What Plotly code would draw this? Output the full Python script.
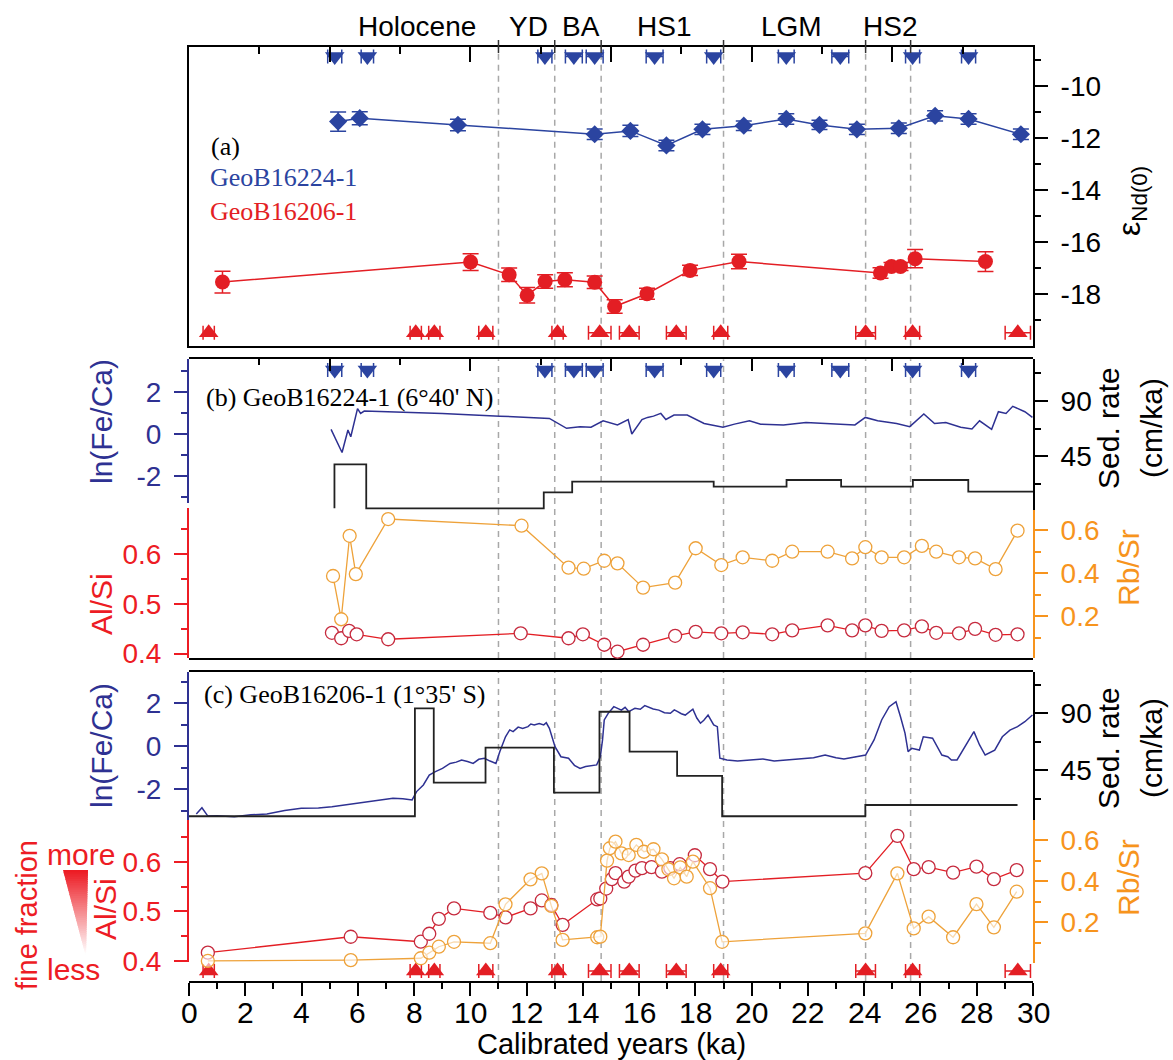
import plotly.graph_objects as go

# ---------------- data ----------------
# Panel (a): eps Nd(0)
nd_blue_age = [5.30, 6.07, 9.56, 14.42, 15.69, 16.97, 18.25, 19.72, 21.23, 22.41, 23.74, 25.23, 26.52, 27.71, 29.57]
nd_blue_val = [-11.37, -11.24, -11.50, -11.86, -11.73, -12.29, -11.67, -11.53, -11.27, -11.50, -11.67, -11.63, -11.15, -11.27, -11.86]
nd_blue_err = [0.37, 0.25, 0.22, 0.2, 0.22, 0.2, 0.2, 0.18, 0.2, 0.18, 0.2, 0.2, 0.2, 0.2, 0.2]
nd_red_age = [1.19, 10.01, 11.38, 12.02, 12.66, 13.36, 14.42, 15.13, 16.28, 17.81, 19.55, 24.58, 24.97, 25.29, 25.81, 28.31]
nd_red_val = [-17.55, -16.78, -17.27, -18.06, -17.53, -17.46, -17.56, -18.49, -18.0, -17.1, -16.76, -17.2, -16.95, -16.95, -16.65, -16.76]
nd_red_err = [0.42, 0.32, 0.26, 0.3, 0.26, 0.27, 0.24, 0.26, 0.21, 0.2, 0.28, 0.2, 0.15, 0.15, 0.35, 0.38]

# age control points
blue_tie_age = [5.18, 6.34, 12.65, 13.68, 14.42, 16.55, 18.65, 21.23, 23.15, 25.72, 27.71]
blue_tie_err = [0.25, 0.22, 0.25, 0.3, 0.3, 0.3, 0.25, 0.28, 0.3, 0.25, 0.25]
red_tie_age = [0.70, 8.06, 8.72, 10.55, 13.10, 14.60, 15.65, 17.32, 18.90, 24.05, 25.72, 29.46]
red_tie_err = [0.2, 0.2, 0.2, 0.25, 0.2, 0.4, 0.35, 0.35, 0.25, 0.35, 0.25, 0.45]

# Panel (b): GeoB16224-1
b_lnfeca_age = [5.05, 5.44, 5.65, 5.75, 5.99, 6.10, 6.23, 7.0, 9.0, 11.05, 12.81, 13.42, 13.9, 14.29, 14.44, 14.72,
                15.23, 15.61, 15.74, 16.1, 16.3, 16.51, 16.77, 16.95, 17.24, 17.71, 18.31, 18.58, 18.98, 19.39, 19.92,
                20.32, 21.13, 21.93, 22.6, 23.27, 23.67, 24.04, 24.48, 25.15, 25.62, 26.12, 26.5, 26.9, 27.43, 27.83,
                28.1, 28.53, 28.77, 29.04, 29.28, 29.71, 29.98]
b_lnfeca_val = [0.22, -0.88, 0.19, -0.13, 1.21, 0.98, 1.09, 1.06, 0.98, 0.85, 0.74, 0.27, 0.35, 0.32, 0.43, 0.63,
                0.43, 0.69, 0.0, 0.69, 0.79, 0.85, 0.98, 0.69, 0.9, 0.9, 0.5, 0.43, 0.32, 0.47, 0.63,
                0.47, 0.43, 0.55, 0.5, 0.43, 0.43, 0.79, 0.63, 0.5, 0.35, 0.95, 0.5, 0.55, 0.32, 0.24,
                0.63, 0.22, 1.06, 0.98, 1.32, 1.06, 0.79]
b_sed_age = [5.17, 5.17, 6.3, 12.61, 13.62, 18.65, 21.24, 23.18, 25.73, 27.7, 30.0]
b_sed_val = [2.7, 38.5, 2.7, 15.7, 24.4, 20.3, 25.7, 20.3, 25.7, 16.2, 16.2]
b_alsi_age = [5.08, 5.41, 5.69, 5.96, 7.08, 11.79, 13.49, 14.0, 14.76, 15.23, 16.14, 17.28, 18.01, 18.92, 19.68,
              20.73, 21.44, 22.7, 23.57, 24.04, 24.62, 25.42, 26.05, 26.56, 27.37, 27.94, 28.67, 29.45]
b_alsi_val = [0.442, 0.431, 0.446, 0.439, 0.429, 0.441, 0.431, 0.439, 0.418, 0.404, 0.418, 0.436, 0.444, 0.441, 0.443,
              0.439, 0.447, 0.457, 0.447, 0.457, 0.446, 0.447, 0.455, 0.442, 0.441, 0.45, 0.438, 0.439]
b_rbsr_age = [5.12, 5.41, 5.71, 5.93, 7.08, 11.82, 13.49, 14.03, 14.76, 15.23, 16.14, 17.28, 18.01, 18.92, 19.68,
              20.73, 21.44, 22.7, 23.57, 24.04, 24.62, 25.42, 26.05, 26.56, 27.37, 27.94, 28.67, 29.45]
b_rbsr_val = [0.386, 0.185, 0.573, 0.395, 0.651, 0.62, 0.425, 0.42, 0.457, 0.445, 0.332, 0.355, 0.515, 0.437, 0.473,
              0.457, 0.499, 0.499, 0.468, 0.52, 0.473, 0.473, 0.526, 0.499, 0.473, 0.468, 0.418, 0.597]

# Panel (c): GeoB16206-1
c_lnfeca_age = [0.26, 0.46, 0.67, 1.0, 1.61, 2.2, 2.77, 3.4, 3.99, 4.6, 5.08, 5.75, 6.3, 6.8, 7.25, 7.6, 7.93, 8.09,
                8.33, 8.54, 8.74, 9.01, 9.28, 9.5, 9.69, 9.9, 10.1, 10.3, 10.5, 10.7, 10.91, 11.05, 11.25, 11.4,
                11.52, 11.7, 11.86, 12.05, 12.15, 12.27, 12.45, 12.61, 12.7, 12.81, 13.01, 13.22, 13.49, 13.7, 13.9,
                14.1, 14.3, 14.49, 14.62, 14.7, 14.76, 14.9, 15.1, 15.25, 15.37, 15.5, 15.63, 15.85, 16.04, 16.2,
                16.3, 16.5, 16.7, 16.9, 17.11, 17.25, 17.37, 17.5, 17.64, 17.8, 17.91, 18.05, 18.18, 18.3, 18.45,
                18.65, 18.78, 18.87, 19.12, 19.5, 19.92, 20.4, 20.8, 21.27, 21.8, 22.2, 22.61, 23.0, 23.28, 23.7,
                24.05, 24.35, 24.62, 24.89, 25.13, 25.29, 25.45, 25.56, 25.69, 25.96, 26.1, 26.43, 26.76, 26.97,
                27.1, 27.3, 27.57, 27.9, 28.1, 28.3, 28.64, 28.91, 29.18, 29.45, 29.71, 29.98]
c_lnfeca_val = [-3.16, -2.87, -3.26, -3.25, -3.29, -3.2, -3.16, -3.0, -2.9, -2.88, -2.82, -2.7, -2.59, -2.52, -2.43,
                -2.45, -2.51, -2.12, -1.81, -1.35, -1.2, -1.04, -0.81, -0.75, -0.65, -0.72, -0.81, -0.62, -0.57,
                -0.7, -0.81, -0.26, 0.43, 0.75, 0.67, 0.88, 0.82, 0.9, 1.02, 0.98, 1.05, 0.98, 1.08, 0.82, -0.03,
                -0.5, -0.57, -0.9, -1.04, -0.95, -0.93, -0.88, -0.5, 0.3, 1.21, 1.52, 1.83, 1.72, 1.67, 1.8, 1.6,
                1.75, 1.71, 1.88, 1.83, 1.72, 1.67, 1.55, 1.52, 1.68, 1.6, 1.5, 1.44, 1.62, 1.71, 1.3, 1.06, 1.2,
                1.44, 0.98, 0.9, -0.57, -0.65, -0.7, -0.65, -0.6, -0.7, -0.65, -0.6, -0.55, -0.42, -0.55, -0.6,
                -0.5, -0.42, 0.28, 1.21, 1.83, 2.06, 1.36, 0.6, -0.26, -0.11, -0.19, 0.43, 0.36, -0.42, -0.5,
                -0.65, -0.65, -0.03, 0.67, 0.05, -0.42, -0.19, 0.43, 0.74, 0.9, 1.13, 1.44]
c_sed_age = [0.0, 8.03, 8.7, 10.54, 12.97, 14.59, 15.66, 17.35, 18.95, 24.04, 29.45]
c_sed_val = [8.5, 93.7, 35.0, 62.6, 27.1, 91.0, 59.5, 40.3, 8.5, 17.4, 17.4]
c_alsi_age = [0.67, 5.75, 8.24, 8.54, 8.88, 9.42, 10.71, 11.25, 12.14, 12.54, 12.88, 13.28, 14.51, 14.62, 14.83,
              15.03, 15.16, 15.47, 15.63, 15.87, 16.1, 16.44, 16.81, 17.11, 17.44, 17.98, 18.52, 18.96, 24.04,
              25.18, 25.76, 26.29, 27.16, 27.99, 28.61, 29.42]
c_alsi_val = [0.417, 0.449, 0.439, 0.455, 0.485, 0.506, 0.497, 0.488, 0.506, 0.522, 0.513, 0.473, 0.524, 0.526, 0.546,
              0.565, 0.577, 0.56, 0.57, 0.582, 0.587, 0.589, 0.58, 0.587, 0.595, 0.613, 0.585, 0.56, 0.577,
              0.652, 0.585, 0.589, 0.578, 0.59, 0.565, 0.583]
c_rbsr_age = [0.67, 5.75, 8.24, 8.54, 8.88, 9.42, 10.71, 11.25, 12.14, 12.54, 12.88, 13.28, 14.51, 14.62, 14.86,
              14.96, 15.16, 15.37, 15.63, 15.9, 16.17, 16.51, 16.81, 17.04, 17.24, 17.46, 17.69, 17.91, 18.52,
              18.95, 24.04, 25.18, 25.76, 26.29, 27.16, 27.99, 28.61, 29.42]
c_rbsr_val = [0.013, 0.017, 0.026, 0.053, 0.082, 0.106, 0.099, 0.288, 0.409, 0.438, 0.28, 0.115, 0.128, 0.131, 0.5,
              0.56, 0.592, 0.535, 0.527, 0.576, 0.543, 0.555, 0.506, 0.458, 0.414, 0.467, 0.422, 0.495, 0.366,
              0.106, 0.147, 0.438, 0.171, 0.228, 0.128, 0.289, 0.176, 0.349]

x_tick_vals = [0, 2, 4, 6, 8, 10, 12, 14, 16, 18, 20, 22, 24, 26, 28, 30]

event_names = ["Holocene", "YD", "BA", "HS1", "LGM", "HS2"]
event_centers = [8.1, 12.08, 13.92, 16.87, 21.42, 24.93]
event_bounds = [11.0, 13.0, 14.65, 19.0, 24.05, 25.65]

# ---------------- styling ----------------
SANS = "Liberation Sans, Arial, sans-serif"
SERIF = "Liberation Serif, Times New Roman, serif"
BLUE_AX = "#2E3192"
BLUE = "#2B44A0"
RED = "#E31E24"
RED_AX = "#ED1C24"
CRIMSON = "#C62A3E"
ORANGE_AX = "#F7941D"
ORANGE = "#EEA23A"
GREY = "#A8A8A8"

W, H = 1173, 1060
ML, MR, MT, MB = 189, 140, 47, 79
L, R, T, B = ML, W - MR, MT, H - MB


def px(xp):
    return (xp - L) / (R - L)


def py(yp):
    return (B - yp) / (B - T)


fig = go.Figure()

# ---------- panel (a) ----------
fig.add_trace(go.Scatter(x=nd_blue_age, y=nd_blue_val, mode="lines+markers", xaxis="x3", yaxis="y11",
                         line=dict(color=BLUE, width=1.5),
                         marker=dict(symbol="diamond", size=14, color=BLUE),
                         error_y=dict(type="data", array=nd_blue_err, color=BLUE, thickness=1.5, width=8)))
fig.add_trace(go.Scatter(x=nd_red_age, y=nd_red_val, mode="lines+markers", xaxis="x3", yaxis="y11",
                         line=dict(color=RED, width=1.5),
                         marker=dict(symbol="circle", size=15, color=RED),
                         error_y=dict(type="data", array=nd_red_err, color=RED, thickness=1.5, width=8)))
fig.add_trace(go.Scatter(x=blue_tie_age, y=[-8.87] * len(blue_tie_age), mode="markers", xaxis="x3", yaxis="y11",
                         marker=dict(symbol="triangle-down", size=17, color=BLUE), cliponaxis=False,
                         error_x=dict(type="data", array=blue_tie_err, color=BLUE, thickness=1.5, width=7)))
fig.add_trace(go.Scatter(x=red_tie_age, y=[-19.5] * len(red_tie_age), mode="markers", xaxis="x3", yaxis="y11",
                         marker=dict(symbol="triangle-up", size=17, color=RED), cliponaxis=False,
                         error_x=dict(type="data", array=red_tie_err, color=RED, thickness=1.5, width=7)))

# ---------- panel (b) ----------
fig.add_trace(go.Scatter(x=b_sed_age, y=b_sed_val, mode="lines", xaxis="x2", yaxis="y8",
                         line=dict(color="#222222", width=1.8, shape="hv")))
fig.add_trace(go.Scatter(x=b_lnfeca_age, y=b_lnfeca_val, mode="lines", xaxis="x2", yaxis="y7",
                         line=dict(color=BLUE_AX, width=1.5)))
fig.add_trace(go.Scatter(x=b_rbsr_age, y=b_rbsr_val, mode="lines+markers", xaxis="x2", yaxis="y10",
                         line=dict(color=ORANGE, width=1.3), cliponaxis=False,
                         marker=dict(symbol="circle", size=13, color="white", line=dict(color=ORANGE, width=1.3))))
fig.add_trace(go.Scatter(x=b_alsi_age, y=b_alsi_val, mode="lines+markers", xaxis="x2", yaxis="y9",
                         line=dict(color=RED, width=1.3), cliponaxis=False,
                         marker=dict(symbol="circle", size=13, color="white", line=dict(color=CRIMSON, width=1.3))))
fig.add_trace(go.Scatter(x=blue_tie_age, y=[0.964] * len(blue_tie_age), mode="markers", xaxis="x2", yaxis="y6",
                         marker=dict(symbol="triangle-down", size=17, color=BLUE), cliponaxis=False,
                         error_x=dict(type="data", array=blue_tie_err, color=BLUE, thickness=1.5, width=7)))

# ---------- panel (c) ----------
fig.add_trace(go.Scatter(x=c_sed_age, y=c_sed_val, mode="lines", xaxis="x", yaxis="y3",
                         line=dict(color="#222222", width=1.8, shape="hv")))
fig.add_trace(go.Scatter(x=c_lnfeca_age, y=c_lnfeca_val, mode="lines", xaxis="x", yaxis="y2",
                         line=dict(color=BLUE_AX, width=1.5)))
fig.add_trace(go.Scatter(x=c_alsi_age, y=c_alsi_val, mode="lines+markers", xaxis="x", yaxis="y4",
                         line=dict(color=RED, width=1.3), cliponaxis=False,
                         marker=dict(symbol="circle", size=13, color="white", line=dict(color=CRIMSON, width=1.3))))
fig.add_trace(go.Scatter(x=c_rbsr_age, y=c_rbsr_val, mode="lines+markers", xaxis="x", yaxis="y5",
                         line=dict(color=ORANGE, width=1.3), cliponaxis=False,
                         marker=dict(symbol="circle", size=13, color="rgba(255,255,255,0.6)",
                                     line=dict(color=ORANGE, width=1.3))))
fig.add_trace(go.Scatter(x=red_tie_age, y=[0.032] * len(red_tie_age), mode="markers", xaxis="x", yaxis="y",
                         marker=dict(symbol="triangle-up", size=17, color=RED), cliponaxis=False,
                         error_x=dict(type="data", array=red_tie_err, color=RED, thickness=1.5, width=7)))


# ---------- axes ----------
def yax(domain, rng, side, color, major, major_text, minor, anchor, mirror=False):
    return dict(domain=domain, range=rng, side=side, anchor=anchor, showline=True, linecolor=color,
                linewidth=2, mirror=mirror, ticks="outside", ticklen=13, tickwidth=1.5, tickcolor=color,
                tickmode="array", tickvals=major, ticktext=major_text, ticklabelstandoff=7,
                tickfont=dict(family=SANS, size=28, color=color),
                minor=dict(tickmode="array", tickvals=minor, ticks="outside", ticklen=6, tickwidth=1.5,
                           tickcolor=color),
                showgrid=False, zeroline=False, fixedrange=True)


def hidden_y(domain, anchor):
    return dict(domain=domain, range=[0, 1], anchor=anchor, showline=False, ticks="", showticklabels=False,
                showgrid=False, zeroline=False, fixedrange=True)


layout = dict(
    width=W, height=H, margin=dict(l=ML, r=MR, t=MT, b=MB, pad=0),
    paper_bgcolor="white", plot_bgcolor="rgba(0,0,0,0)", showlegend=False,
    xaxis=dict(domain=[0, 1], range=[0, 30], anchor="y", side="bottom", showline=True, linecolor="black",
               linewidth=2, mirror=True, ticks="outside", ticklen=13, tickwidth=1.5, tickcolor="black",
               tickmode="array", tickvals=x_tick_vals, showticklabels=False,
               minor=dict(dtick=1, tick0=0, ticks="outside", ticklen=6, tickwidth=1.5, tickcolor="black"),
               showgrid=False, zeroline=False, fixedrange=True),
    xaxis2=dict(domain=[0, 1], range=[0, 30], anchor="y6", side="top", showline=True, linecolor="black",
                linewidth=2, mirror=True, ticks="inside", ticklen=12, tickwidth=1.5, tickcolor="black",
                tick0=0, dtick=5, showticklabels=False,
                minor=dict(dtick=2.5, tick0=0, ticks="inside", ticklen=6, tickwidth=1.5, tickcolor="black"),
                showgrid=False, zeroline=False, fixedrange=True),
    xaxis3=dict(domain=[0, 1], range=[0, 30], anchor="y11", side="top", showline=True, linecolor="black",
                linewidth=2, mirror=True, ticks="inside", ticklen=15, tickwidth=1.5, tickcolor="black",
                tick0=0, dtick=5, showticklabels=False,
                minor=dict(dtick=2.5, tick0=0, ticks="inside", ticklen=7, tickwidth=1.5, tickcolor="black"),
                showgrid=False, zeroline=False, fixedrange=True),
    # panel c
    yaxis=hidden_y([0, py(671.7)], "x"),
    yaxis2=yax([py(820), py(671.7)], [-3.442, 3.456], "left", BLUE_AX, [-2, 0, 2], ["-2", "0", "2"],
               [-3, -1, 1, 3], "x"),
    yaxis3=yax([py(820), py(671.7)], [5.55, 122.6], "right", "black", [45, 90], ["45", "90"],
               [22.5, 67.5, 112.5], "x"),
    yaxis4=yax([py(962), py(820)], [0.3982, 0.6839], "left", RED_AX, [0.4, 0.5, 0.6], ["0.4", "0.5", "0.6"],
               [0.45, 0.55, 0.65], "x"),
    yaxis5=yax([py(963), py(820)], [0.003, 0.697], "right", ORANGE_AX, [0.2, 0.4, 0.6], ["0.2", "0.4", "0.6"],
               [0.1, 0.3, 0.5], "x"),
    # panel b
    yaxis6=hidden_y([py(658), py(359.3)], "x2"),
    yaxis7=yax([py(503), py(359.3)], [-3.286, 3.557], "left", BLUE_AX, [-2, 0, 2], ["-2", "0", "2"],
               [-3, -1, 1, 3], "x2"),
    yaxis8=yax([py(510), py(359.3)], [1.31, 123.93], "right", "black", [45, 90], ["45", "90"],
               [22.5, 67.5, 112.5], "x2"),
    yaxis9=yax([py(658), py(508)], [0.3913, 0.6932], "left", RED_AX, [0.4, 0.5, 0.6], ["0.4", "0.5", "0.6"],
               [0.45, 0.55, 0.65], "x2"),
    yaxis10=yax([py(658), py(510)], [0.0047, 0.693], "right", ORANGE_AX, [0.2, 0.4, 0.6], ["0.2", "0.4", "0.6"],
                [0.1, 0.3, 0.5], "x2"),
    # panel a
    yaxis11=yax([py(345.7), 1.0], [-20.0, -8.5], "right", "black", [-18, -16, -14, -12, -10],
                ["-18", "-16", "-14", "-12", "-10"], [-19, -17, -15, -13, -11, -9], "x3", mirror=True),
)
fig.update_layout(**layout)

# ---------- shapes ----------
shapes = []
panels_px = [(47.3, 345.7), (359.3, 658.0), (671.7, 981.0)]
for b in event_bounds:
    for top, bot in panels_px:
        shapes.append(dict(type="line", xref="x", yref="paper", x0=b, x1=b, y0=py(bot), y1=py(top),
                           line=dict(color=GREY, width=1.5, dash="6px,5px"), layer="below"))
    shapes.append(dict(type="line", xref="x", yref="paper", x0=b, x1=b, y0=py(53), y1=py(40),
                       line=dict(color="#333333", width=1.5)))

# gradient wedge (fine fraction more -> less)
n = 40
y_top, y_bot = 870.0, 957.0
xl_top, xr_top, x_tip = 63.0, 88.0, 86.0
for i in range(n):
    t0, t1 = i / n, min(1.0, (i + 1.6) / n)
    ya0, ya1 = y_top + (y_bot - y_top) * t0, y_top + (y_bot - y_top) * t1
    xl0, xl1 = xl_top + (x_tip - xl_top) * t0, xl_top + (x_tip - xl_top) * t1
    xr0, xr1 = xr_top + (x_tip - xr_top) * t0, xr_top + (x_tip - xr_top) * t1
    f = min(1.0, (i / n) * 1.05)
    col = "rgb(%d,%d,%d)" % (237 + (255 - 237) * f, 28 + (255 - 28) * f, 36 + (255 - 36) * f)
    path = "M %f %f L %f %f L %f %f L %f %f Z" % (px(xl0), py(ya0), px(xr0), py(ya0), px(xr1), py(ya1),
                                                  px(xl1), py(ya1))
    shapes.append(dict(type="path", xref="paper", yref="paper", path=path, fillcolor=col,
                       line=dict(width=0), layer="above"))
fig.update_layout(shapes=shapes)

# ---------- annotations ----------
ann = []


def text(x, y, s, size=28, color="black", family=SANS, angle=0, xanchor="center", yanchor="middle"):
    ann.append(dict(x=px(x), y=py(y), xref="paper", yref="paper", text=s, showarrow=False, textangle=angle,
                    xanchor=xanchor, yanchor=yanchor, font=dict(family=family, size=size, color=color)))


for name, c in zip(event_names, event_centers):
    ann.append(dict(x=c, y=py(26), xref="x", yref="paper", text=name, showarrow=False, xanchor="center",
                    yanchor="middle", font=dict(family=SANS, size=28, color="black")))

for v in x_tick_vals:
    ann.append(dict(x=v, y=py(1012), xref="x", yref="paper", text=str(v), showarrow=False, xanchor="center",
                    yanchor="middle", font=dict(family=SANS, size=30, color="black")))

text(225, 146, "(a)", size=26, family=SERIF)
text(208, 178, "GeoB16224-1", size=26, color=BLUE, family=SERIF, xanchor="left")
text(208, 211, "GeoB16206-1", size=26, color=RED, family=SERIF, xanchor="left")
text(204, 398, "(b) GeoB16224-1 (6°40' N)", size=26, family=SERIF, xanchor="left")
text(202, 694, "(c) GeoB16206-1 (1°35' S)", size=26, family=SERIF, xanchor="left")

text(1131, 201, "ε<sub>Nd(0)</sub>", size=32, angle=-90)
text(101, 422, "ln(Fe/Ca)", size=30, color=BLUE_AX, angle=-90)
text(101, 604, "Al/Si", size=30, color=RED_AX, angle=-90)
text(101, 746, "ln(Fe/Ca)", size=30, color=BLUE_AX, angle=-90)
text(105, 909, "Al/Si", size=30, color=RED_AX, angle=-90)
text(27, 915, "fine fraction", size=29, color=RED_AX, angle=-90)
text(81, 854, "more", size=30, color=RED_AX)
text(73, 969, "less", size=30, color=RED_AX)

text(1108, 428, "Sed. rate", size=30, angle=-90)
text(1151, 428, "(cm/ka)", size=30, angle=-90)
text(1108, 748, "Sed. rate", size=30, angle=-90)
text(1151, 748, "(cm/ka)", size=30, angle=-90)
text(1128, 568, "Rb/Sr", size=30, color=ORANGE_AX, angle=-90)
text(1128, 878, "Rb/Sr", size=30, color=ORANGE_AX, angle=-90)

text(611, 1044, "Calibrated years (ka)", size=29)

fig.update_layout(annotations=ann)

fig.write_html("out.html")
